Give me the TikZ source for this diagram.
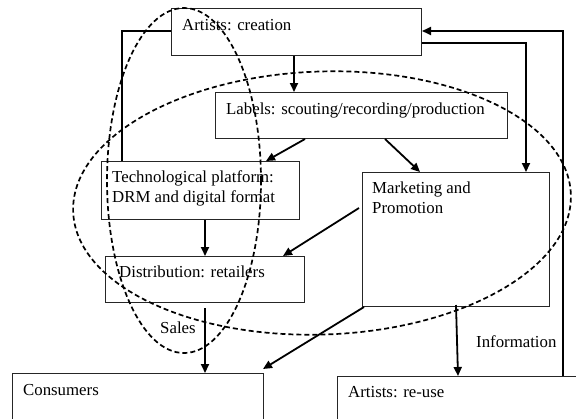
\documentclass[tikz,border=0pt]{standalone}
\usepackage{fontspec}
\setmainfont{Liberation Serif}
\usetikzlibrary{arrows.meta}
\begin{document}
\begin{tikzpicture}[x=1bp,y=-1bp,
  box/.style={draw=black!85,line width=1bp,rectangle,inner sep=0pt,anchor=north west},
  lbl/.style={anchor=base west,inner sep=0pt,font=\fontsize{16.8bp}{20bp}\selectfont},
  conn/.style={line width=1.8bp},
  arr/.style={conn,-{Triangle[length=9bp,width=8bp]}},
  oval/.style={line width=1.7bp,dash pattern=on 5bp off 3bp}]
\useasboundingbox[fill=white] (0,0) rectangle (576,418);
% boxes
\node[box,minimum width=250bp,minimum height=47bp] (art) at (171,8) {};
\node[box,minimum width=292bp,minimum height=46bp] (lab) at (215,92) {};
\node[box,minimum width=198bp,minimum height=58bp] (tech) at (101,161) {};
\node[box,minimum width=187bp,minimum height=134bp] (mkt) at (362,172) {};
\node[box,minimum width=199bp,minimum height=46bp] (dist) at (105,256) {};
\node[box,minimum width=251bp,minimum height=70bp] (cons) at (12,373) {};
\node[box,minimum width=290bp,minimum height=70bp] (reuse) at (337,376) {};
% texts
\node[lbl] (tart) at (182,30) {Artists: creation};
\node[lbl] (tlab) at (226,114) {Labels: scouting/recording/production};
\node[lbl] (ttech1) at (112,182) {Technological platform:};
\node[lbl] (ttech2) at (112,202) {DRM and digital format};
\node[lbl] (tmkt1) at (372,193) {Marketing and};
\node[lbl] (tmkt2) at (372,213) {Promotion};
\node[lbl] (tdist) at (119,277) {Distribution: retailers};
\node[lbl] (tsales) at (160,333) {Sales};
\node[lbl] (tcons) at (23,395) {Consumers};
\node[lbl] (treuse) at (348,397) {Artists: re-use};
\node[lbl] (tinfo) at (476,347) {Information};
% connectors
\draw[arr] ([xshift=123bp]art.south west) -- ([xshift=79bp]lab.north west);
\draw[arr] ([xshift=90bp]lab.south west) -- ([xshift=165bp]tech.north west);
\draw[arr] ([xshift=170bp]lab.south west) -- ([xshift=58bp]mkt.north west);
\draw[arr] ([xshift=104bp]tech.south west) -- ([xshift=100bp]dist.north west);
\draw[arr] ([xshift=-3bp,yshift=-36bp]mkt.north west) -- ([xshift=178bp]dist.north west);
\draw[arr] ([xshift=100bp,yshift=-5bp]dist.south west) -- ([xshift=193bp]cons.north west);
\draw[arr] ([xshift=2bp]mkt.south west) -- ([xshift=-1bp,yshift=4bp]cons.north east);
\draw[arr] ([xshift=94bp,yshift=2bp]mkt.south west) -- ([xshift=121bp]reuse.north west);
\draw[conn] ([yshift=-23bp]art.north west) -| ([xshift=21bp]tech.north west);
\draw[arr] ([xshift=226bp]reuse.north west) |- ([yshift=-23bp]art.north east);
\draw[arr] ([yshift=-35bp]art.north east) -| ([xshift=164bp]mkt.north west);
% dashed ovals
\draw[oval] (184,180.5) ellipse [x radius=77bp,y radius=172.5bp];
\draw[oval,rotate around={2:(322,203)}] (322,203) ellipse [x radius=249bp,y radius=131.5bp];
\end{tikzpicture}
\end{document}
